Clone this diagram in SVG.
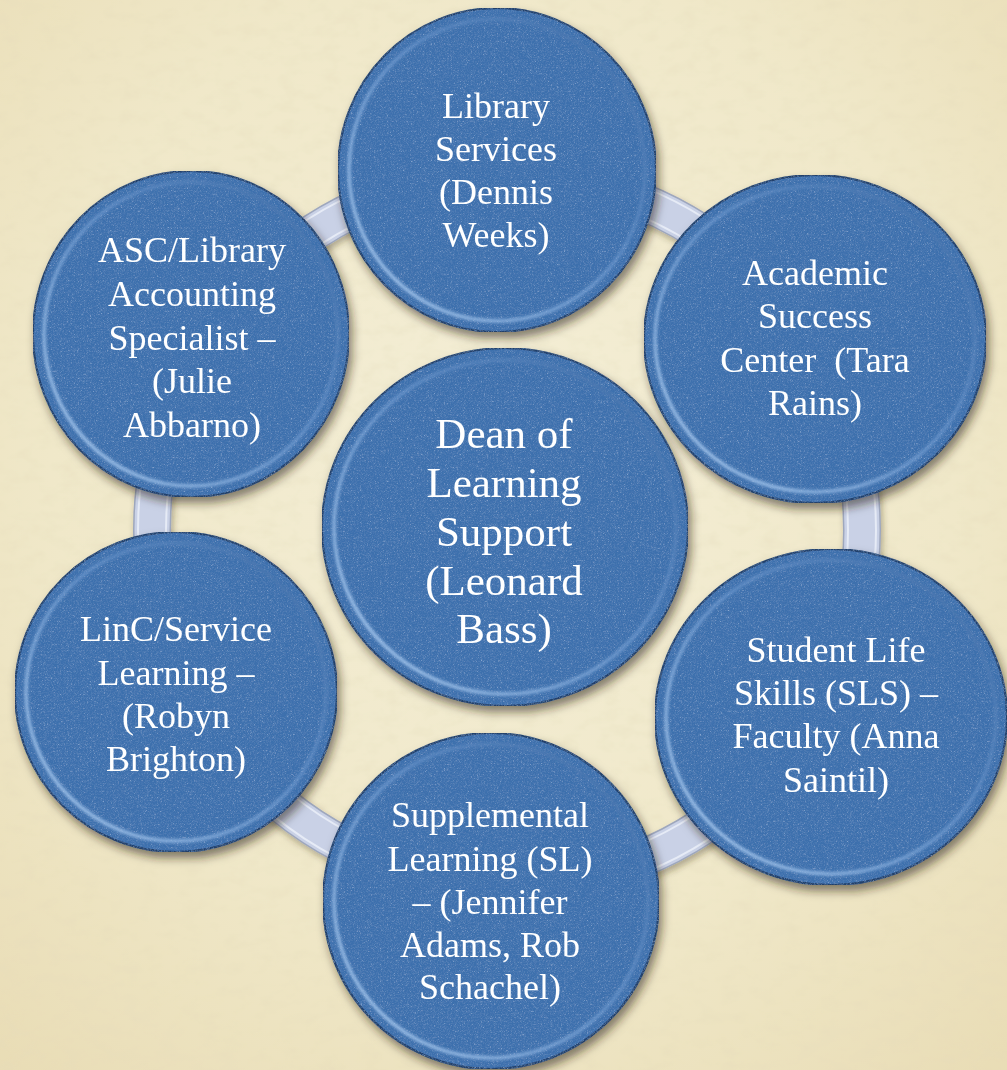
<svg xmlns="http://www.w3.org/2000/svg" width="1007" height="1070" viewBox="0 0 1007 1070">
<defs>
<radialGradient id="bg" cx="0.5" cy="0.42" r="0.75">
<stop offset="0" stop-color="#f4eed6"/>
<stop offset="0.6" stop-color="#f0e8c9"/>
<stop offset="1" stop-color="#e9ddb6"/>
</radialGradient>
<filter id="paper" x="0" y="0" width="1" height="1">
<feTurbulence type="fractalNoise" baseFrequency="0.05 0.08" numOctaves="3" seed="7" result="n"/>
<feColorMatrix in="n" type="matrix" values="0 0 0 0 0.78  0 0 0 0 0.71  0 0 0 0 0.5  0 0 0 0.7 -0.32" result="c"/>
<feComposite in="c" in2="SourceGraphic" operator="in" result="m"/>
<feMerge><feMergeNode in="SourceGraphic"/><feMergeNode in="m"/></feMerge>
</filter>
<filter id="shadow" x="-20%" y="-20%" width="140%" height="140%">
<feDropShadow dx="3" dy="6" stdDeviation="5" flood-color="#2a2010" flood-opacity="0.55"/>
</filter>
<filter id="ringshadow" x="-10%" y="-10%" width="120%" height="120%">
<feDropShadow dx="2" dy="4" stdDeviation="3" flood-color="#3a3020" flood-opacity="0.35"/>
</filter>
<filter id="tex" x="0" y="0" width="1" height="1">
<feTurbulence type="fractalNoise" baseFrequency="0.7" numOctaves="3" seed="2" result="n"/>
<feColorMatrix in="n" type="matrix" values="0 0 0 0 0.13  0 0 0 0 0.27  0 0 0 0 0.52  0 0 0 1.6 -0.72" result="dark"/>
<feComposite in="dark" in2="SourceGraphic" operator="in" result="d2"/>
<feColorMatrix in="n" type="matrix" values="0 0 0 0 0.45  0 0 0 0 0.62  0 0 0 0 0.85  0 0 0 -1.6 0.62" result="light"/>
<feComposite in="light" in2="SourceGraphic" operator="in" result="l2"/>
<feMerge><feMergeNode in="SourceGraphic"/><feMergeNode in="d2"/><feMergeNode in="l2"/></feMerge>
</filter>
<filter id="soft" x="-5%" y="-5%" width="110%" height="110%">
<feGaussianBlur stdDeviation="1.6"/>
</filter>
<linearGradient id="rim" x1="1" y1="0" x2="0" y2="1">
<stop offset="0" stop-color="#3a66a0" stop-opacity="0.8"/>
<stop offset="0.45" stop-color="#6f9ad0" stop-opacity="0.7"/>
<stop offset="1" stop-color="#b4d4f6" stop-opacity="1"/>
</linearGradient>
<style>
.disc{fill:#3e6fad;stroke:#223f6a;stroke-width:2;filter:url(#tex)}
.bevel{fill:none;stroke:url(#rim);stroke-width:3.5;filter:url(#soft)}
.node{filter:url(#shadow)}
.lbl{font-family:"Liberation Serif","DejaVu Serif",serif;fill:#ffffff;text-anchor:middle;font-size:36px;white-space:pre}
.big{font-size:43px}
</style>
</defs>
<rect x="0" y="0" width="1007" height="1070" fill="url(#bg)" filter="url(#paper)"/>

<g id="connectors" filter="url(#ringshadow)">
<circle cx="507" cy="530" r="355" fill="none" stroke="#9ea7bd" stroke-width="38"/>
<circle cx="507" cy="530" r="355" fill="none" stroke="#c9d1e6" stroke-width="35"/>
<circle cx="507" cy="530" r="369" fill="none" stroke="#e6ebf6" stroke-width="2"/>
<circle cx="507" cy="530" r="341" fill="none" stroke="#e6ebf6" stroke-width="2"/>
</g>

<g id="node-library" class="node">
<ellipse class="disc" cx="497" cy="170" rx="159" ry="162"/>
<ellipse class="bevel" cx="497" cy="170" rx="148" ry="151"/>
<text class="lbl" x="496" y="118">Library</text>
<text class="lbl" x="496" y="161">Services</text>
<text class="lbl" x="496" y="204">(Dennis</text>
<text class="lbl" x="496" y="247">Weeks)</text>
</g>

<g id="node-asc" class="node">
<ellipse class="disc" cx="191" cy="334" rx="158" ry="163"/>
<ellipse class="bevel" cx="191" cy="334" rx="147" ry="152"/>
<text class="lbl" x="192" y="262">ASC/Library</text>
<text class="lbl" x="192" y="306">Accounting</text>
<text class="lbl" x="192" y="350">Specialist –</text>
<text class="lbl" x="192" y="393">(Julie</text>
<text class="lbl" x="192" y="437">Abbarno)</text>
</g>

<g id="node-academic" class="node">
<ellipse class="disc" cx="815" cy="339" rx="171" ry="164"/>
<ellipse class="bevel" cx="815" cy="339" rx="160" ry="153"/>
<text class="lbl" x="815" y="285">Academic</text>
<text class="lbl" x="815" y="328">Success</text>
<text class="lbl" x="815" y="372" xml:space="preserve">Center  (Tara</text>
<text class="lbl" x="815" y="415">Rains)</text>
</g>

<g id="node-linc" class="node">
<ellipse class="disc" cx="176" cy="692" rx="161" ry="160"/>
<ellipse class="bevel" cx="176" cy="692" rx="150" ry="149"/>
<text class="lbl" x="176" y="641">LinC/Service</text>
<text class="lbl" x="176" y="685">Learning –</text>
<text class="lbl" x="176" y="728">(Robyn</text>
<text class="lbl" x="176" y="771">Brighton)</text>
</g>

<g id="node-studentlife" class="node">
<ellipse class="disc" cx="831" cy="717" rx="176" ry="168"/>
<ellipse class="bevel" cx="831" cy="717" rx="165" ry="157"/>
<text class="lbl" x="836" y="662">Student Life</text>
<text class="lbl" x="836" y="705">Skills (SLS) –</text>
<text class="lbl" x="836" y="748">Faculty (Anna</text>
<text class="lbl" x="836" y="792">Saintil)</text>
</g>

<g id="node-supplemental" class="node">
<ellipse class="disc" cx="491" cy="901" rx="168" ry="168"/>
<ellipse class="bevel" cx="491" cy="901" rx="157" ry="157"/>
<text class="lbl" x="490" y="827">Supplemental</text>
<text class="lbl" x="490" y="871">Learning (SL)</text>
<text class="lbl" x="490" y="914">– (Jennifer</text>
<text class="lbl" x="490" y="957">Adams, Rob</text>
<text class="lbl" x="490" y="999">Schachel)</text>
</g>

<g id="node-dean" class="node">
<ellipse class="disc" cx="505" cy="527" rx="183" ry="179"/>
<ellipse class="bevel" cx="505" cy="527" rx="171" ry="167"/>
<text class="lbl big" x="504" y="448">Dean of</text>
<text class="lbl big" x="504" y="497">Learning</text>
<text class="lbl big" x="504" y="546">Support</text>
<text class="lbl big" x="504" y="595">(Leonard</text>
<text class="lbl big" x="504" y="643">Bass)</text>
</g>
</svg>
